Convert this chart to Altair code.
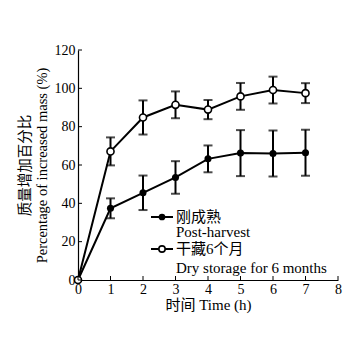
import altair as alt
import pandas as pd

hours = [0, 1, 2, 3, 4, 5, 6, 7]
post_harvest = [0, 37.4, 45.5, 53.5, 63.2, 66.2, 66.0, 66.4]
post_harvest_err = [0, 5.2, 9.0, 8.5, 7.0, 12.0, 12.0, 12.0]
dry_storage = [0, 67.1, 84.8, 91.4, 88.9, 95.8, 99.1, 97.5]
dry_storage_err = [0, 7.3, 8.9, 7.0, 5.0, 7.0, 7.0, 5.2]
x_ticks = [0, 1, 2, 3, 4, 5, 6, 7, 8]
y_ticks = [0, 20, 40, 60, 80, 100, 120]
legend_labels = ["刚成熟", "Post-harvest", "干藏6个月", "Dry storage for 6 months"]

FONT = "Liberation Serif"
MIXFONT = "Liberation Serif, Noto Sans CJK SC"

rows = []
for h, v, e in zip(hours, post_harvest, post_harvest_err):
    rows.append({"t": h, "v": v, "lo": v - e, "hi": v + e, "s": "ph", "err": e})
for h, v, e in zip(hours, dry_storage, dry_storage_err):
    rows.append({"t": h, "v": v, "lo": v - e, "hi": v + e, "s": "ds", "err": e})
df = pd.DataFrame(rows)
err_df = df[df["err"] > 0]

xs = alt.Scale(domain=[0, 8], nice=False)
ys = alt.Scale(domain=[0, 120], nice=False)

axX = alt.Axis(values=x_ticks, ticks=False, title="时间 Time (h)",
               labelFont=FONT, labelFontSize=14, labelColor="black", labelPadding=2, labelOverlap=False,
               labelFlush=False,
               titleFont=MIXFONT, titleFontSize=15, titleFontWeight="normal",
               titleColor="black", titlePadding=1, domainColor="black", domainWidth=1.2, grid=False)
axY = alt.Axis(values=y_ticks, ticks=False,
               title=["质量增加百分比", "Percentage of increased mass (%)"],
               labelFont=FONT, labelFontSize=14, labelColor="black", labelPadding=3, labelOverlap=False,
               labelFlush=False,
               titleFont=MIXFONT, titleFontSize=14.5, titleFontWeight="normal",
               titleColor="black", titlePadding=5, domainColor="black", domainWidth=1.2, grid=False)


def xe(field="t"):
    return alt.X(f"{field}:Q", scale=xs, axis=axX)


def ye(field):
    return alt.Y(f"{field}:Q", scale=ys, axis=axY)


lines = alt.Chart(df).mark_line(color="black", strokeWidth=2).encode(x=xe(), y=ye("v"), detail="s:N")

err = alt.Chart(err_df).mark_rule(color="black", strokeWidth=2).encode(
    x=xe(), y=ye("lo"), y2="hi:Q")
cap_lo = alt.Chart(err_df).mark_tick(color="black", thickness=2, size=9, orient="horizontal").encode(
    x=xe(), y=ye("lo"))
cap_hi = alt.Chart(err_df).mark_tick(color="black", thickness=2, size=9, orient="horizontal").encode(
    x=xe(), y=ye("hi"))

pts_ph = alt.Chart(df[df["s"] == "ph"]).mark_point(filled=True, color="black", size=50, opacity=1).encode(
    x=xe(), y=ye("v"))
pts_ds = alt.Chart(df[df["s"] == "ds"]).mark_point(fill="white", stroke="black", strokeWidth=1.6,
                                                   size=50, opacity=1, filled=False).encode(
    x=xe(), y=ye("v"))

# inward ticks
xt = alt.Chart(pd.DataFrame({"t": x_ticks})).mark_rule(color="black", strokeWidth=1).encode(
    x=xe(), y=alt.value(230), y2=alt.value(226))
yt = alt.Chart(pd.DataFrame({"v": y_ticks})).mark_rule(color="black", strokeWidth=1).encode(
    y=ye("v"), x=alt.value(0), x2=alt.value(4))

# legend
one = pd.DataFrame({"a": [0]})
leg_line = alt.Chart(one).mark_rule(color="black", strokeWidth=2).encode(
    x=alt.value(73), x2=alt.value(95), y=alt.value(167))
leg_line2 = alt.Chart(one).mark_rule(color="black", strokeWidth=2).encode(
    x=alt.value(73), x2=alt.value(95), y=alt.value(199))
leg_p1 = alt.Chart(one).mark_point(filled=True, color="black", size=45, opacity=1).encode(
    x=alt.value(84), y=alt.value(167))
leg_p2 = alt.Chart(one).mark_point(fill="white", stroke="black", strokeWidth=1.6, size=40,
                                   opacity=1).encode(x=alt.value(84), y=alt.value(199))
leg_texts = []
for lab, yy in zip(legend_labels, [167, 182, 199, 218]):
    leg_texts.append(alt.Chart(one).mark_text(
        align="left", baseline="middle", font=MIXFONT, fontSize=15, color="black", text=lab).encode(
        x=alt.value(98), y=alt.value(yy)))

chart = alt.layer(lines, err, cap_lo, cap_hi, pts_ph, pts_ds, xt, yt,
                  leg_line, leg_line2, leg_p1, leg_p2, *leg_texts).properties(
    width=260, height=230,
    autosize=alt.AutoSizeParams(type="none"),
    padding={"left": 70, "top": 42, "right": 10, "bottom": 50},
).configure_view(stroke=None).configure_axis(labelOverlap=False)

chart.save("out.html", embed_options={"renderer": "svg", "actions": False})
